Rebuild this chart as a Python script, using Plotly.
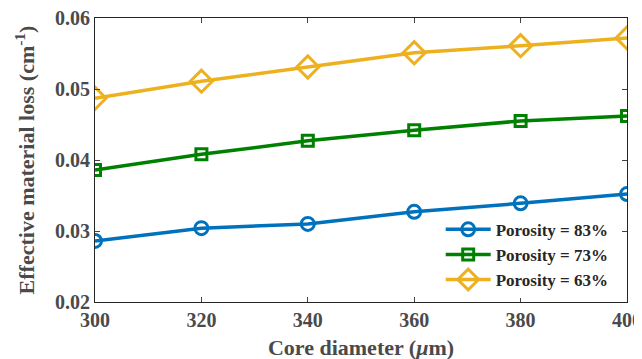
import plotly.graph_objects as go

core_diameter = [300, 320, 340, 360, 380, 400]
loss_83 = [0.0286, 0.0304, 0.0310, 0.0327, 0.0339, 0.0352]
loss_73 = [0.0386, 0.0408, 0.0427, 0.0442, 0.0455, 0.0462]
loss_63 = [0.0487, 0.0511, 0.0531, 0.0551, 0.0561, 0.0572]
x_ticks = [300, 320, 340, 360, 380, 400]
y_ticks = [0.02, 0.03, 0.04, 0.05, 0.06]

series = [
    ("Porosity = 83%", loss_83, "#0072BD", "circle-open", 13),
    ("Porosity = 73%", loss_73, "#008000", "square-open", 11),
    ("Porosity = 63%", loss_63, "#EDB120", "diamond-open", 17),
]

fig = go.Figure()
for name, ys, color, sym, size in series:
    fig.add_trace(go.Scatter(
        x=core_diameter, y=ys, name="<b>" + name + "</b>", mode="lines+markers",
        line=dict(color=color, width=3.5),
        marker=dict(symbol=sym, size=size, color=color, line=dict(width=3, color=color)),
    ))

font_family = "Liberation Serif"
tick_font = dict(size=20, family=font_family, color="#4a4a4a", weight="bold")
title_font = dict(size=22, family=font_family, color="#4a4a4a", weight="bold")
fig.update_layout(
    width=642, height=359,
    margin=dict(l=87, r=23, t=10, b=65),
    paper_bgcolor="white", plot_bgcolor="white",
    font=dict(family=font_family, size=16, color="#404040"),
    showlegend=True,
    legend=dict(x=0.975, y=0.015, xanchor="right", yanchor="bottom",
                bgcolor="rgba(255,255,255,1)", borderwidth=0,
                font=dict(size=17, color="#262626", family=font_family),
                tracegroupgap=0, itemwidth=45),
    xaxis=dict(range=[300, 400], tickvals=x_ticks, ticks="inside", ticklen=5,
               showline=True, linecolor="#262626", linewidth=1, mirror="ticks",
               showgrid=False, zeroline=False, automargin=False,
               ticklabeloverflow="allow", tickfont=tick_font,
               title=dict(text="Core diameter (<i>μ</i>m)", standoff=9, font=title_font)),
    yaxis=dict(range=[0.02, 0.06], tickvals=y_ticks, tickformat=".2f", ticks="inside", ticklen=5,
               showline=True, linecolor="#262626", linewidth=1, mirror="ticks",
               showgrid=False, zeroline=False, automargin=False,
               ticklabeloverflow="allow", tickfont=tick_font,
               title=dict(text="Effective material loss (cm<sup>-1</sup>)", standoff=14, font=title_font)),
)

fig.write_html("out.html")
